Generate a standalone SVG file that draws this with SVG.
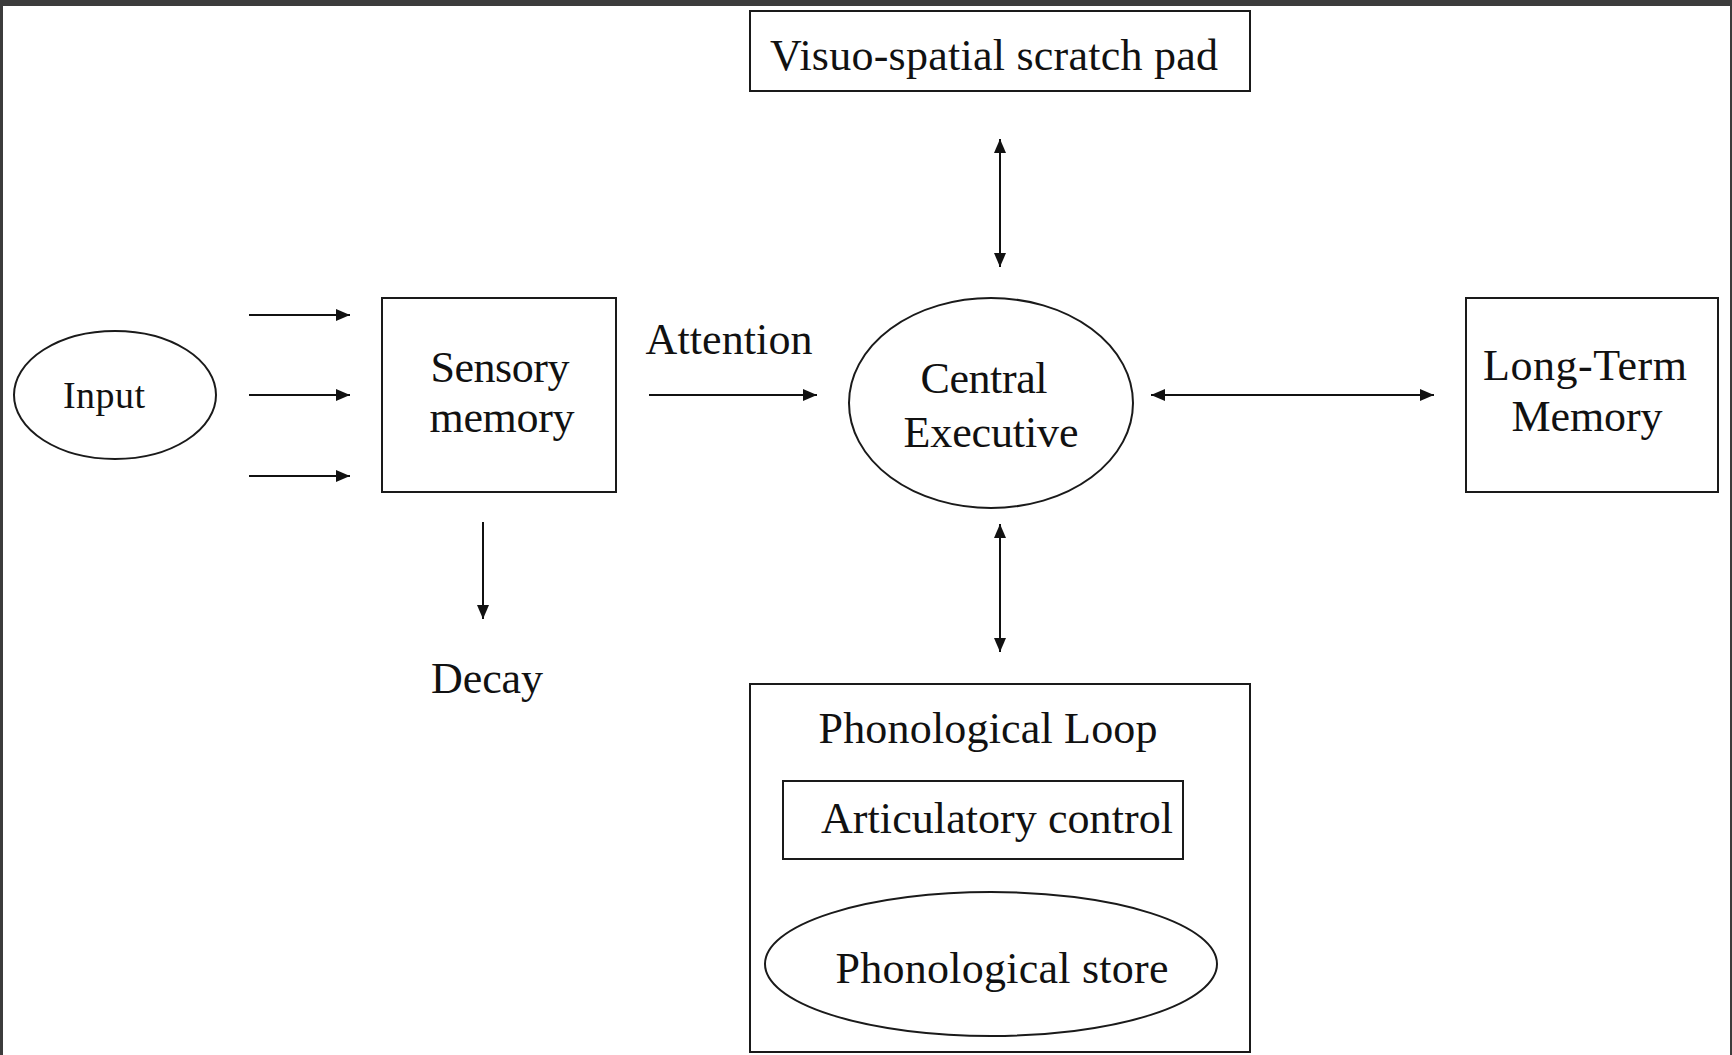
<svg xmlns="http://www.w3.org/2000/svg" width="1732" height="1055" viewBox="0 0 1732 1055">
<defs>
<style>
.box{fill:none;stroke:#1a1a1a;stroke-width:2}
.ln{fill:none;stroke:#111;stroke-width:2}
.t{font-family:"Liberation Serif","Times New Roman",serif;font-size:44px;fill:#111;text-anchor:middle}
</style>
<marker id="ah" viewBox="0 0 14 12" refX="14" refY="6" markerWidth="14" markerHeight="12" markerUnits="userSpaceOnUse" orient="auto-start-reverse">
<path d="M0,0 L14,6 L0,12 z" fill="#111"/>
</marker>
</defs>
<rect x="0" y="0" width="1732" height="1055" fill="#fff"/>
<g id="frame">
<rect x="0" y="0" width="1732" height="6" fill="#3c3c3c"/>
<rect x="0" y="0" width="3" height="1055" fill="#3c3c3c"/>
<rect x="1730" y="0" width="2" height="1055" fill="#3c3c3c"/>
</g>
<g id="visuo">
<rect class="box" x="750" y="11" width="500" height="80"/>
<text class="t" x="994" y="70" textLength="448">Visuo-spatial scratch pad</text>
</g>
<g id="input">
<ellipse class="box" cx="115" cy="395" rx="101" ry="64"/>
<text class="t" x="104" y="408" style="font-size:38px" textLength="82">Input</text>
</g>
<g id="sensory">
<rect class="box" x="382" y="298" width="234" height="194"/>
<text class="t" x="500" y="382" textLength="139">Sensory</text>
<text class="t" x="502" y="432" textLength="145">memory</text>
</g>
<g id="attention-label">
<text class="t" x="729" y="354" textLength="167">Attention</text>
</g>
<g id="central">
<ellipse class="box" cx="991" cy="403" rx="142" ry="105"/>
<text class="t" x="984" y="393" textLength="127">Central</text>
<text class="t" x="991" y="447" textLength="175">Executive</text>
</g>
<g id="ltm">
<rect class="box" x="1466" y="298" width="252" height="194"/>
<text class="t" x="1585" y="380" textLength="204">Long-Term</text>
<text class="t" x="1587" y="431" textLength="151">Memory</text>
</g>
<g id="decay">
<text class="t" x="487" y="693" textLength="112">Decay</text>
</g>
<g id="phonological-loop">
<rect class="box" x="750" y="684" width="500" height="368"/>
<text class="t" x="988" y="743" textLength="339">Phonological Loop</text>
</g>
<g id="articulatory">
<rect class="box" x="783" y="781" width="400" height="78"/>
<text class="t" x="997" y="833" textLength="352">Articulatory control</text>
</g>
<g id="store">
<ellipse class="box" cx="991" cy="964" rx="226" ry="72"/>
<text class="t" x="1002" y="983" textLength="333">Phonological store</text>
</g>
<g id="connectors">
<line class="ln" x1="249" y1="315" x2="350" y2="315" marker-end="url(#ah)"/>
<line class="ln" x1="249" y1="395" x2="350" y2="395" marker-end="url(#ah)"/>
<line class="ln" x1="249" y1="476" x2="350" y2="476" marker-end="url(#ah)"/>
<line class="ln" x1="649" y1="395" x2="817" y2="395" marker-end="url(#ah)"/>
<line class="ln" x1="1151" y1="395" x2="1434" y2="395" marker-start="url(#ah)" marker-end="url(#ah)"/>
<line class="ln" x1="1000" y1="139" x2="1000" y2="267" marker-start="url(#ah)" marker-end="url(#ah)"/>
<line class="ln" x1="1000" y1="524" x2="1000" y2="652" marker-start="url(#ah)" marker-end="url(#ah)"/>
<line class="ln" x1="483" y1="522" x2="483" y2="619" marker-end="url(#ah)"/>
</g>
</svg>
